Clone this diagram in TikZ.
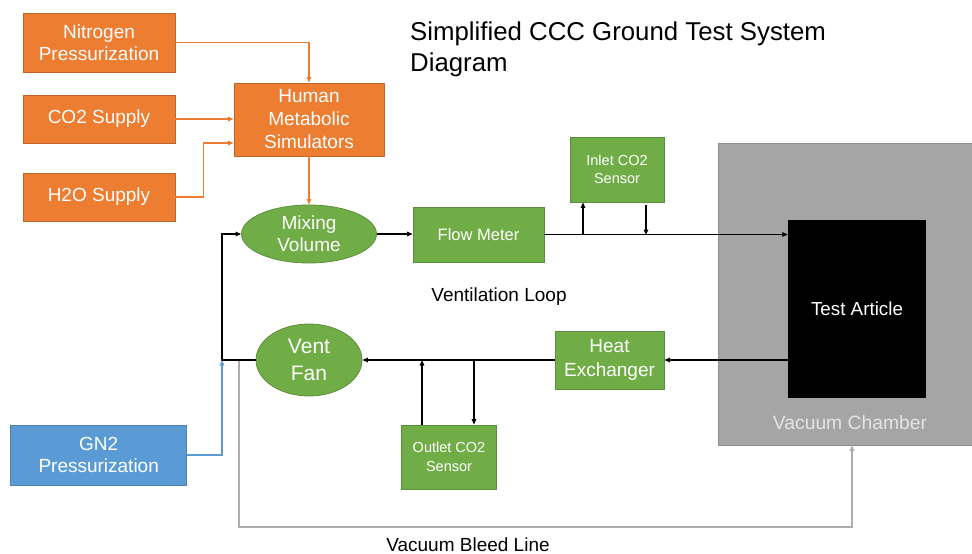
\documentclass[tikz,border=0pt]{standalone}
\usepackage{fontspec}
\setmainfont{Liberation Sans}
\usetikzlibrary{arrows.meta,shapes.geometric,calc}

\definecolor{ofill}{HTML}{ED7D31}
\definecolor{oline}{HTML}{C0652A}
\definecolor{gfill}{HTML}{70AD47}
\definecolor{gline}{HTML}{5A8F3A}
\definecolor{bfill}{HTML}{5B9BD5}
\definecolor{bline}{HTML}{4A80B4}
\definecolor{chfill}{HTML}{A5A5A5}
\definecolor{chline}{HTML}{8E8E8E}
\definecolor{bleed}{HTML}{ADADAD}
\definecolor{chtext}{HTML}{E4E4E4}

\begin{document}
\begin{tikzpicture}[x=1pt,y=-1pt,
  box/.style={rectangle, draw, line width=0.8pt, text=white, align=center,
              inner sep=1pt, font=\fontsize{19}{22}\selectfont},
  orangebox/.style={box, fill=ofill, draw=oline},
  greenbox/.style={box, fill=gfill, draw=gline},
  bluebox/.style={box, fill=bfill, draw=bline},
  oval/.style={ellipse, draw=gline, fill=gfill, line width=0.8pt, text=white,
               align=center, inner sep=0pt},
  tip/.style={-{Triangle[length=5.5pt,width=4.5pt]}},
  loopline/.style={tip, line width=1.3pt, draw=black},
  feedline/.style={tip, line width=1.3pt, draw=ofill},
  gnline/.style={tip, line width=1.3pt, draw=bfill},
  bleedline/.style={tip, line width=1.3pt, draw=bleed},
  caption/.style={text=black, font=\fontsize{19}{22}\selectfont},
  heading/.style={anchor=base west, inner sep=0pt, font=\fontsize{25.8}{31}\selectfont}
]
\useasboundingbox (0,0) rectangle (972,554);

% title
\node[heading] (title1) at (410,40) {Simplified CCC Ground Test System};
\node[heading] (title2) at (410,71) {Diagram};

% gas supply side
\node[orangebox, minimum width=152, minimum height=59] (nitro) at (99,42.5) {Nitrogen\\Pressurization};
\node[orangebox, minimum width=152, minimum height=48] (co2) at (99,119) {CO2 Supply};
\node[orangebox, minimum width=152, minimum height=48] (h2o) at (99,197) {H2O Supply};
\node[orangebox, minimum width=150, minimum height=73, font=\fontsize{19}{23}\selectfont] (hms) at (309,119.5) {Human\\Metabolic\\Simulators};

% vacuum chamber and test article
\node[rectangle, fill=chfill, draw=chline, line width=0.8pt, minimum width=256, minimum height=302, inner sep=0pt] (chamber) at (846,294) {};
\node[rectangle, fill=black, minimum width=138, minimum height=178, inner sep=0pt, text=white,
      font=\fontsize{18.8}{22}\selectfont] (test) at (857,309) {Test Article};
\node[text=chtext, font=\fontsize{19.3}{22}\selectfont] (chlabel) at (850,423) {Vacuum Chamber};

% ventilation loop components
\node[oval, minimum width=135, minimum height=58, font=\fontsize{19}{21.7}\selectfont] (mix) at (309,234) {Mixing\\Volume};
\node[greenbox, minimum width=131, minimum height=55, font=\fontsize{16.5}{20}\selectfont] (flow) at (478.5,234.5) {Flow Meter};
\node[greenbox, minimum width=94, minimum height=65, font=\fontsize{14.5}{18.5}\selectfont] (inlet) at (617,169.5) {Inlet CO2\\Sensor};
\node[greenbox, minimum width=109, minimum height=58, font=\fontsize{19}{23.3}\selectfont] (hx) at (609.5,360) {Heat\\Exchanger};
\node[greenbox, minimum width=95, minimum height=64, font=\fontsize{14.5}{18.7}\selectfont] (outlet) at (449,457) {Outlet CO2\\Sensor};
\node[oval, minimum width=106, minimum height=72, font=\fontsize{21}{26.5}\selectfont] (fan) at (309,360) {Vent\\Fan};
\node[bluebox, minimum width=176, minimum height=60, font=\fontsize{19}{22.7}\selectfont] (gn2) at (98.7,455) {GN2\\Pressurization};

% captions
\node[caption] (looplabel) at (499,297) {Ventilation Loop};
\node[caption] (bleedlabel) at (468,545) {Vacuum Bleed Line};

% junction points on the loop
\coordinate (jn) at (222,360);
\coordinate (bl) at (239,360);
\coordinate (tapA) at (583,235);
\coordinate (tapB) at (646,235);
\coordinate (tapC) at (422,360);
\coordinate (tapD) at (474,360);

% vacuum bleed line (under the loop line)
\draw[bleedline] (bl) -- ++(0,167) -| ([xshift=6]chamber.south);

% feeds into the metabolic simulators
\draw[feedline] (nitro.east) -| (hms.north);
\draw[feedline] (co2.east) -- (co2.east -| hms.west);
\draw[feedline] (h2o.east) -- ++(28,0) |- ([yshift=-23.5]hms.west);
\draw[feedline] (hms.south) -- (mix.north);

% ventilation loop
\draw[loopline] (mix.east) -- (mix.east -| flow.west);
\draw[loopline] (flow.east) -- (flow.east -| test.west);
\draw[loopline] (tapA) -- (tapA |- inlet.south);
\draw[loopline] ([yshift=-3]tapB |- inlet.south) -- (tapB);
\draw[loopline] (test.west |- hx.east) -- (hx.east);
\draw[loopline] (hx.west) -- (fan.east);
\draw[loopline] (outlet.north -| tapC) -- (tapC);
\draw[loopline] (tapD) -- (tapD |- outlet.north);
\draw[loopline] (fan.west) -- (jn) |- (mix.west);

% GN2 make-up
\draw[gnline] (gn2.east) -| (jn);
\end{tikzpicture}
\end{document}
